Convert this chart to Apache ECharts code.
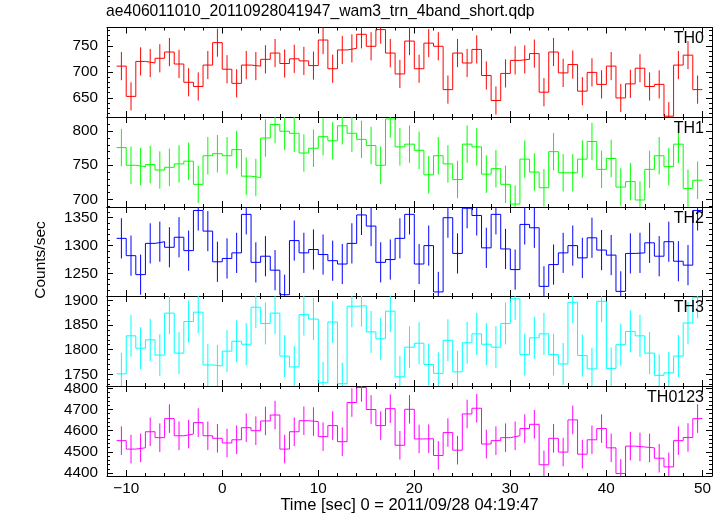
<!DOCTYPE html>
<html><head><meta charset="utf-8">
<script src="https://cdn.jsdelivr.net/npm/echarts@6/dist/echarts.min.js"></script>
<style>html,body{margin:0;padding:0;background:#fff}#c{width:723px;height:516px}</style>
</head><body><div id="c"></div>
<script>
// ---- data ----
const binCentres = [-10.5,-9.5,-8.5,-7.5,-6.5,-5.5,-4.5,-3.5,-2.5,-1.5,-0.5,0.5,1.5,2.5,3.5,4.5,5.5,6.5,7.5,8.5,9.5,10.5,11.5,12.5,13.5,14.5,15.5,16.5,17.5,18.5,19.5,20.5,21.5,22.5,23.5,24.5,25.5,26.5,27.5,28.5,29.5,30.5,31.5,32.5,33.5,34.5,35.5,36.5,37.5,38.5,39.5,40.5,41.5,42.5,43.5,44.5,45.5,46.5,47.5,48.5,49.5];
const binWidth = 1;
const th0 = [711,653,720,717,726,738,715,680,672,713,756,705,678,713,711,724,736,716,725,721,712,761,706,742,745,772,749,781,736,696,759,706,755,749,666,736,717,743,693,645,697,722,724,735,661,738,698,714,663,699,676,711,650,677,707,672,676,615,713,732,666];
const th1 = [776,750,748,751,743,747,752,756,722,764,767,764,773,734,732,790,810,800,797,768,775,792,786,808,797,788,779,750,818,777,781,772,736,764,752,729,781,777,737,745,722,693,759,740,717,770,739,739,759,785,744,760,718,726,699,744,764,748,781,716,728];
const th2 = [1313,1282,1248,1304,1307,1297,1315,1291,1363,1326,1271,1277,1287,1356,1270,1281,1256,1212,1309,1287,1293,1284,1273,1267,1304,1355,1335,1270,1275,1313,1356,1267,1300,1217,1350,1286,1367,1354,1296,1356,1294,1257,1338,1332,1227,1266,1287,1300,1278,1314,1292,1283,1218,1286,1287,1305,1281,1307,1272,1265,1363];
const th3 = [1751,1828,1803,1820,1789,1874,1793,1857,1876,1769,1767,1797,1817,1811,1886,1853,1874,1787,1765,1871,1862,1733,1856,1731,1888,1889,1836,1822,1878,1745,1805,1813,1770,1752,1819,1755,1814,1832,1811,1805,1853,1903,1790,1824,1832,1790,1771,1896,1788,1761,1898,1762,1810,1837,1828,1793,1748,1753,1787,1854,1906];
const th0123 = [4553,4513,4519,4595,4567,4657,4576,4584,4638,4576,4564,4542,4557,4614,4600,4646,4674,4513,4595,4647,4643,4572,4624,4548,4733,4804,4700,4624,4704,4531,4701,4561,4562,4483,4591,4508,4679,4706,4537,4553,4567,4576,4610,4630,4439,4564,4499,4651,4489,4557,4610,4519,4398,4527,4523,4519,4470,4429,4553,4568,4657];
const errHalf = [27, 27.5, 36, 42.5, 67.5];   // error-bar half length per panel
const panelNames = ['TH0','TH1','TH2','TH3','TH0123'];
const yMin = [613.5, 688.7, 1209.7, 1726.4, 4386];
const yMax = [785, 820.9, 1369.2, 1908.7, 4811];
const yMajorTicks = [[650,700,750],[700,750,800],[1250,1300,1350],[1750,1800,1850,1900],[4400,4500,4600,4700,4800]];
const yMinorStep = [10,10,10,10,20];
const xMajorTicks = [-10,0,10,20,30,40,50];
const xMinorStep = 2;
const xMin = -12, xMax = 51;
const titleText = 'ae406011010_20110928041947_wam3_trn_4band_short.qdp';
const xName = 'Time [sec] 0 = 2011/09/28 04:19:47';
const yName = 'Counts/sec';

// ---- layout / style ----
const series = [th0, th1, th2, th3, th0123];
const colors = ['#ff0000','#00ff00','#0000ff','#00ffff','#ff00ff'];
const tops = [27.5, 117, 207, 296, 386];
const bottomEdge = 476;
const FONT = '"Liberation Sans", Arial, Helvetica, sans-serif';

function minorVals(lo, hi, step) {
  const out = [];
  for (let v = Math.ceil(lo / step) * step; v <= hi; v += step) out.push(+v.toFixed(6));
  return out;
}
const xMinor = minorVals(xMin, xMax, xMinorStep);
const fmtX = v => v < 0 ? '\u2212' + (-v) : String(v);
const fmtY = v => String(v);

const grids = [], xAxes = [], yAxes = [], ser = [], graphics = [];
for (let i = 0; i < 5; i++) {
  const h = (i < 4 ? tops[i + 1] : bottomEdge) - tops[i];
  grids.push({ left: 107, width: 605, top: tops[i], height: h, show: false });
  const lineBlack = { show: true, onZero: false, lineStyle: { color: '#000', width: 1 } };
  const baseX = { type: 'value', gridIndex: i, min: xMin, max: xMax, splitLine: { show: false } };
  xAxes.push(Object.assign({}, baseX, {
    position: 'bottom', axisLine: lineBlack,
    axisTick: { show: true, inside: true, length: 6, customValues: xMajorTicks, lineStyle: { color: '#000' } },
    axisLabel: { show: i === 4, customValues: xMajorTicks, formatter: fmtX, fontSize: 15.3, color: '#000', margin: 5, fontFamily: FONT },
    name: i === 4 ? xName : '', nameLocation: 'middle', nameGap: 21,
    nameTextStyle: { fontSize: 16.5, color: '#000', fontFamily: FONT }
  }));
  xAxes.push(Object.assign({}, baseX, {
    position: 'bottom', axisLine: { show: false, onZero: false },
    axisTick: { show: true, inside: true, length: 3, customValues: xMinor, lineStyle: { color: '#000' } },
    axisLabel: { show: false }
  }));
  xAxes.push(Object.assign({}, baseX, {
    position: 'top', axisLine: lineBlack,
    axisTick: { show: true, inside: true, length: 6, customValues: xMajorTicks, lineStyle: { color: '#000' } },
    axisLabel: { show: false }
  }));
  xAxes.push(Object.assign({}, baseX, {
    position: 'top', axisLine: { show: false, onZero: false },
    axisTick: { show: true, inside: true, length: 3, customValues: xMinor, lineStyle: { color: '#000' } },
    axisLabel: { show: false }
  }));

  const yMinor = minorVals(yMin[i], yMax[i], yMinorStep[i]);
  const baseY = { type: 'value', gridIndex: i, min: yMin[i], max: yMax[i], splitLine: { show: false }, scale: true };
  yAxes.push(Object.assign({}, baseY, {
    position: 'left', axisLine: lineBlack,
    axisTick: { show: true, inside: true, length: 6, customValues: yMajorTicks[i], lineStyle: { color: '#000' } },
    axisLabel: { show: true, customValues: yMajorTicks[i], formatter: fmtY, fontSize: 15.3, color: '#000', margin: 9, fontFamily: FONT }
  }));
  yAxes.push(Object.assign({}, baseY, {
    position: 'left', axisLine: { show: false, onZero: false },
    axisTick: { show: true, inside: true, length: 3, customValues: yMinor, lineStyle: { color: '#000' } },
    axisLabel: { show: false }
  }));
  yAxes.push(Object.assign({}, baseY, {
    position: 'right', axisLine: lineBlack,
    axisTick: { show: true, inside: true, length: 6, customValues: yMajorTicks[i], lineStyle: { color: '#000' } },
    axisLabel: { show: false }
  }));
  yAxes.push(Object.assign({}, baseY, {
    position: 'right', axisLine: { show: false, onZero: false },
    axisTick: { show: true, inside: true, length: 3, customValues: yMinor, lineStyle: { color: '#000' } },
    axisLabel: { show: false }
  }));

  const vals = series[i];
  const hist = vals.map((v, k) => [binCentres[k] - binWidth / 2, v]);
  hist.push([binCentres[vals.length - 1] + binWidth / 2, vals[vals.length - 1]]);
  const col = colors[i];
  ser.push({
    type: 'line', xAxisIndex: 4 * i, yAxisIndex: 4 * i, step: 'end', symbol: 'none', showSymbol: false,
    data: hist, lineStyle: { color: col, width: 1 }, itemStyle: { color: col }, animation: false, silent: true, clip: true
  });
  const eh = errHalf[i];
  ser.push({
    type: 'custom', xAxisIndex: 4 * i, yAxisIndex: 4 * i, clip: true, silent: true, animation: false,
    data: vals.map((v, k) => [binCentres[k], v]),
    encode: { x: 0, y: 1 },
    renderItem: (params, api) => {
      const x = api.value(0), y = api.value(1);
      const a = api.coord([x, y - eh]), b = api.coord([x, y + eh]);
      return { type: 'line', shape: { x1: a[0], y1: a[1], x2: b[0], y2: b[1] }, style: { stroke: col, lineWidth: 1 } };
    }
  });
  graphics.push({
    type: 'text', x: 704, y: tops[i] + 11.5, z: 100,
    style: { text: panelNames[i], font: '16px ' + FONT, fill: '#000', align: 'right', verticalAlign: 'middle', textAlign: 'right', textVerticalAlign: 'middle' }
  });
}
graphics.push({
  type: 'text', x: 41, y: 260, rotation: Math.PI / 2,
  style: { text: yName, font: '15.5px ' + FONT, fill: '#000', align: 'center', verticalAlign: 'middle', textAlign: 'center', textVerticalAlign: 'middle' }
});

const chart = echarts.init(document.getElementById('c'), null, { renderer: 'canvas' });
chart.setOption({
  animation: false,
  backgroundColor: '#fff',
  textStyle: { fontFamily: FONT },
  title: { text: titleText, left: 106, top: 4, padding: 0, textStyle: { fontSize: 15.7, fontWeight: 'normal', color: '#000', fontFamily: FONT } },
  grid: grids, xAxis: xAxes, yAxis: yAxes, series: ser, graphic: graphics
});
</script></body></html>
